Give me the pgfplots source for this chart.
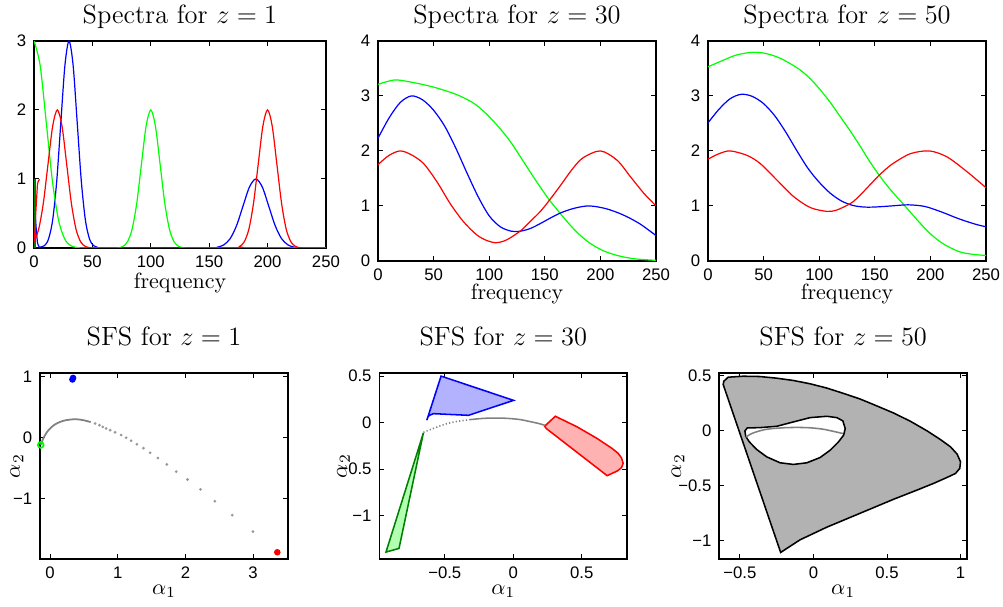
\documentclass[border=0pt]{standalone}
\usepackage{fontspec}
\usepackage{pgfplots}
\pgfplotsset{compat=1.18}
\newfontfamily\ticksf{Liberation Sans}
\definecolor{mgreen}{rgb}{0,1,0}
\definecolor{dgreen}{rgb}{0,0.5,0}
\definecolor{lblue}{rgb}{0.7,0.7,1}
\definecolor{lred}{rgb}{1,0.7,0.7}
\definecolor{lgreen}{rgb}{0.7,1,0.7}
\definecolor{sfsgray}{rgb}{0.7,0.7,0.7}
\definecolor{cgray}{rgb}{0.5,0.5,0.5}

\pgfplotsset{
  mlab/.style={scale only axis, anchor=south west,
    axis line style={line width=0.7pt},
    tick align=inside, major tick length=2.2pt,
    tick style={black, line width=0.45pt},
    tick label style={font=\ticksf\fontsize{7.6}{9}\selectfont},
    title style={font=\large, anchor=base, yshift=-6pt},
    xlabel style={anchor=base},
    every axis plot/.append style={line width=0.55pt}},
  spec/.style={mlab, xmin=0, xmax=250, ymin=0,
    xtick={0,50,...,250}, xticklabels={0,50,100,150,200,250},
    xlabel={frequency}},
  sfs/.style={mlab, width=112.7pt, height=84.5pt,
    xlabel={$\alpha_1$}, ylabel={$\alpha_2$},
    title style={at={(axis description cs:0.5,1.150)}},
    xlabel style={at={(axis description cs:0.5,-0.189)}}},
}

\begin{document}
\begin{tikzpicture}
\useasboundingbox (0,0) rectangle (455.9pt,275.9pt);

% ---- spectra, z = 1
\begin{axis}[spec, at={(15.45pt,163.2pt)}, width=132.7pt, height=94.1pt,
  ymax=3, ytick={0,1,2,3}, yticklabels={0,1,2,3},
  title={Spectra for $z=1$},
  title style={at={(axis description cs:0.5,1.082)}},
  xlabel style={at={(axis description cs:0.5,-0.195)}}]
\addplot[blue] coordinates {(0.5,0) (1,0.52) (2,0.25) (3,0.07) (4.5,0.01)};
\addplot[blue, smooth] coordinates {
  (4.5,0.01) (9,0.033) (12.5,0.132) (16,0.406) (19.5,0.974) (23,1.820)
  (26.5,2.648) (30,3) (33.5,2.648) (37,1.820) (40.5,0.974) (44,0.406)
  (47.5,0.132) (51,0.033) (54.5,0.007) (60,0) (150,0) (157,0.011)
  (162.5,0.044) (168,0.135) (173.5,0.325) (179,0.607) (184.5,0.883) (190,1)
  (195.5,0.883) (201,0.607) (206.5,0.325) (212,0.135) (217.5,0.044)
  (223,0.011) (230,0) (250,0)};
\addplot[mgreen, smooth] coordinates {
  (0,3) (5.25,2.648) (10.5,1.820) (15.75,0.974) (21,0.406) (26.25,0.132)
  (31.5,0.033) (36.75,0.007) (42,0) (70,0) (76,0.022) (80,0.088) (84,0.271)
  (88,0.649) (92,1.213) (96,1.765) (100,2) (104,1.765) (108,1.213)
  (112,0.649) (116,0.271) (120,0.088) (124,0.022) (128,0.004) (134,0) (250,0)};
\addplot[dgreen] coordinates {(0.8,0) (0.8,1)};
\addplot[red] coordinates {(0.3,0.08) (1.5,0.5) (3,0.93) (4,0.98) (5,0.99)};
\addplot[red, smooth] coordinates {
  (0,0.088) (4,0.271) (8,0.649) (12,1.213) (16,1.765) (20,2) (24,1.765)
  (28,1.213) (32,0.649) (36,0.271) (40,0.088) (44,0.022) (48,0.004) (54,0)
  (170,0) (176,0.022) (180,0.088) (184,0.271) (188,0.649) (192,1.213)
  (196,1.765) (200,2) (204,1.765) (208,1.213) (212,0.649) (216,0.271)
  (220,0.088) (224,0.022) (228,0.004) (234,0) (250,0)};
\end{axis}

% ---- spectra, z = 30
\begin{axis}[spec, at={(171.8pt,157.3pt)}, width=126.4pt, height=100pt,
  ymax=4, ytick={0,1,2,3,4}, yticklabels={0,1,2,3,4},
  title={Spectra for $z=30$},
  title style={at={(axis description cs:0.5,1.077)}},
  xlabel style={at={(axis description cs:0.5,-0.175)}}]
\addplot[mgreen, smooth] coordinates {
  (0,3.21) (15,3.29) (30,3.25) (50,3.16) (70,3.03) (85,2.88) (95,2.72)
  (107,2.47) (119,2.17) (131,1.80) (140,1.52) (146,1.34) (154,1.11)
  (164,0.86) (172,0.67) (180,0.5) (190,0.33) (202,0.19) (215,0.1)
  (230,0.04) (250,0.01)};
\addplot[blue, smooth] coordinates {
  (0,2.23) (10,2.6) (20,2.88) (30,3.0) (40,2.93) (50,2.74) (60,2.45)
  (70,2.05) (80,1.6) (90,1.17) (100,0.82) (110,0.62) (120,0.54) (128,0.54)
  (137,0.59) (146,0.68) (155,0.78) (165,0.88) (177,0.96) (190,1.0) (205,0.95)
  (220,0.84) (235,0.68) (250,0.46)};
\addplot[red, smooth] coordinates {
  (0,1.75) (10,1.92) (20,2.0) (30,1.93) (41,1.77) (53,1.44) (65,1.04)
  (77,0.71) (89,0.47) (98,0.37) (106,0.33) (113,0.36) (119,0.42) (129,0.56)
  (137,0.72) (146,0.9) (154,1.1) (164,1.37) (174,1.65) (184,1.87) (200,2.0)
  (215,1.83) (227,1.53) (239,1.23) (250,1.0)};
\end{axis}

% ---- spectra, z = 50
\begin{axis}[spec, at={(321.8pt,157.3pt)}, width=126.4pt, height=100pt,
  ymax=4, ytick={0,1,2,3,4}, yticklabels={0,1,2,3,4},
  title={Spectra for $z=50$},
  title style={at={(axis description cs:0.5,1.077)}},
  xlabel style={at={(axis description cs:0.5,-0.175)}}]
\addplot[mgreen, smooth] coordinates {
  (0,3.53) (15,3.66) (25,3.74) (38,3.79) (50,3.78) (62,3.71) (72,3.61)
  (83,3.47) (92,3.31) (101,3.11) (110,2.88) (119,2.62) (128,2.36) (137,2.08)
  (145,1.82) (153.5,1.57) (161,1.37) (169,1.18) (177.5,0.99) (187,0.77)
  (197,0.55) (206,0.39) (215,0.27) (227,0.16) (240,0.115) (250,0.1)};
\addplot[blue, smooth] coordinates {
  (0,2.51) (10,2.76) (20,2.95) (30,3.03) (40,2.99) (50,2.86) (60,2.64)
  (70,2.34) (80,2.0) (90,1.68) (100,1.43) (110,1.23) (120,1.09) (130,1.01)
  (140,0.98) (150,0.98) (165,1.0) (180,1.02) (195,0.99) (210,0.89)
  (225,0.77) (240,0.67) (250,0.62)};
\addplot[red, smooth] coordinates {
  (0,1.85) (10,1.95) (20,2.0) (35,1.92) (47,1.77) (62,1.47) (77,1.17)
  (92,0.97) (107,0.9) (115,0.92) (122,0.98) (130,1.07) (137,1.2)
  (145,1.37) (153,1.54) (160,1.67) (167,1.78) (182,1.95) (199,2.0)
  (215,1.89) (233,1.62) (250,1.33)};
\end{axis}

% ---- SFS, z = 1
\begin{axis}[sfs, at={(18.2pt,21.8pt)},
  xmin=-0.148, xmax=3.516, ymin=-1.997, ymax=1.054,
  xtick={0,1,2,3}, xticklabels={0,1,2,3},
  ytick={-1,0,1}, yticklabels={−1,0,1},
  title={SFS for $z=1$},
  ylabel style={at={(axis description cs:-0.081,0.5)}, anchor=base}]
\addplot[cgray, line width=0.8pt, smooth] coordinates {
  (-0.138,-0.125) (-0.099,-0.016) (-0.05,0.08) (0,0.146) (0.07,0.21)
  (0.148,0.253) (0.22,0.278) (0.296,0.291) (0.37,0.297) (0.45,0.29)
  (0.53,0.272) (0.6,0.25)};
\addplot[gray!80, only marks, mark=*, mark size=0.3pt] coordinates {
  (0.666,0.227) (0.73,0.199) (0.779,0.172) (0.828,0.146) (0.888,0.118)
  (0.96,0.083) (1.05,0.037) (1.124,-0.006) (1.198,-0.055) (1.282,-0.114)
  (1.38,-0.178) (1.479,-0.254) (1.593,-0.34) (1.726,-0.444) (1.864,-0.562)
  (2.031,-0.692) (2.224,-0.854) (2.436,-1.049) (2.692,-1.276) (2.998,-1.546)};
\addplot[blue, only marks, mark=*, mark size=1.2pt] coordinates {
  (0.33,0.95) (0.34,0.975)};
\addplot[red, only marks, mark=*, mark size=1.2pt] coordinates {
  (3.358,-1.886)};
\addplot[mgreen, only marks, mark=o, mark size=1.3pt, line width=0.8pt]
  coordinates {(-0.138,-0.125)};
\end{axis}

% ---- SFS, z = 30
\begin{axis}[sfs, at={(172.4pt,21.8pt)},
  xmin=-0.978, xmax=0.832, ymin=-1.468, ymax=0.532,
  xtick={-0.5,0,0.5}, xticklabels={−0.5,0,0.5},
  ytick={-1,-0.5,0,0.5}, yticklabels={−1,−0.5,0,0.5},
  title={SFS for $z=30$},
  ylabel style={at={(axis description cs:-0.132,0.5)}, anchor=base}]
\addplot[draw=blue, fill=lblue, line width=0.7pt] coordinates {
  (-0.527,0.5) (0.002,0.239) (-0.327,0.078) (-0.5,0.09) (-0.583,0.096)
  (-0.612,0.078) (-0.625,0.055) (-0.631,0.025)} -- cycle;
\addplot[draw=dgreen, fill=lgreen, line width=0.7pt] coordinates {
  (-0.656,-0.111) (-0.929,-1.393) (-0.834,-1.354)} -- cycle;
\addplot[draw=red, fill=lred, line width=0.7pt] coordinates {
  (0.229,-0.039) (0.307,0.068) (0.466,-0.046) (0.612,-0.171) (0.722,-0.279)
  (0.765,-0.33) (0.79,-0.38) (0.802,-0.439) (0.79,-0.485) (0.76,-0.52)
  (0.722,-0.546) (0.685,-0.571) (0.241,-0.064)} -- cycle;
\addplot[cgray, densely dotted, line width=0.7pt, smooth] coordinates {
  (-0.656,-0.105) (-0.57,-0.055) (-0.485,-0.012) (-0.4,0.015) (-0.315,0.032)};
\addplot[cgray, line width=0.7pt, smooth] coordinates {
  (-0.315,0.032) (-0.22,0.045) (-0.119,0.049) (-0.03,0.044) (0.051,0.032)
  (0.124,0.01) (0.18,-0.008) (0.234,-0.03)};
\end{axis}

% ---- SFS, z = 50
\begin{axis}[sfs, at={(326.9pt,21.8pt)},
  xmin=-0.641, xmax=1.045, ymin=-1.166, ymax=0.526,
  xtick={-0.5,0,0.5,1}, xticklabels={−0.5,0,0.5,1},
  ytick={-1,-0.5,0,0.5}, yticklabels={−1,−0.5,0,0.5},
  title={SFS for $z=50$},
  ylabel style={at={(axis description cs:-0.154,0.5)}, anchor=base}]
\addplot[draw=black, fill=sfsgray, line width=0.7pt] coordinates {
  (-0.614,0.423) (-0.609,0.453) (-0.58,0.489) (-0.477,0.498) (-0.364,0.495)
  (-0.25,0.48) (-0.136,0.459) (-0.023,0.429) (0.091,0.39) (0.205,0.341)
  (0.318,0.29) (0.432,0.227) (0.545,0.163) (0.659,0.088) (0.773,0.0)
  (0.864,-0.079) (0.932,-0.145) (0.977,-0.211) (1.0,-0.281) (0.995,-0.341)
  (0.966,-0.387) (0.909,-0.423) (0.818,-0.477) (0.705,-0.538) (0.545,-0.622)
  (0.318,-0.749) (0.091,-0.876) (-0.091,-0.991) (-0.223,-1.106)} -- cycle;
\addplot[draw=black, fill=white, line width=0.7pt] coordinates {
  (-0.45,0.027) (-0.364,0.03) (-0.25,0.042) (-0.136,0.082) (-0.023,0.121)
  (0.091,0.133) (0.159,0.121) (0.2,0.091) (0.216,0.021) (0.205,-0.039)
  (0.17,-0.1) (0.114,-0.175) (0.045,-0.242) (-0.045,-0.29) (-0.136,-0.305)
  (-0.227,-0.29) (-0.318,-0.236) (-0.386,-0.169) (-0.436,-0.1)
  (-0.461,-0.048) (-0.466,0.0)} -- cycle;
\addplot[cgray, line width=0.7pt, smooth] coordinates {
  (-0.459,-0.054) (-0.409,-0.018) (-0.318,0.015) (-0.182,0.03) (-0.045,0.03)
  (0.068,0.015) (0.2,-0.024)};
\end{axis}
\end{tikzpicture}
\end{document}
